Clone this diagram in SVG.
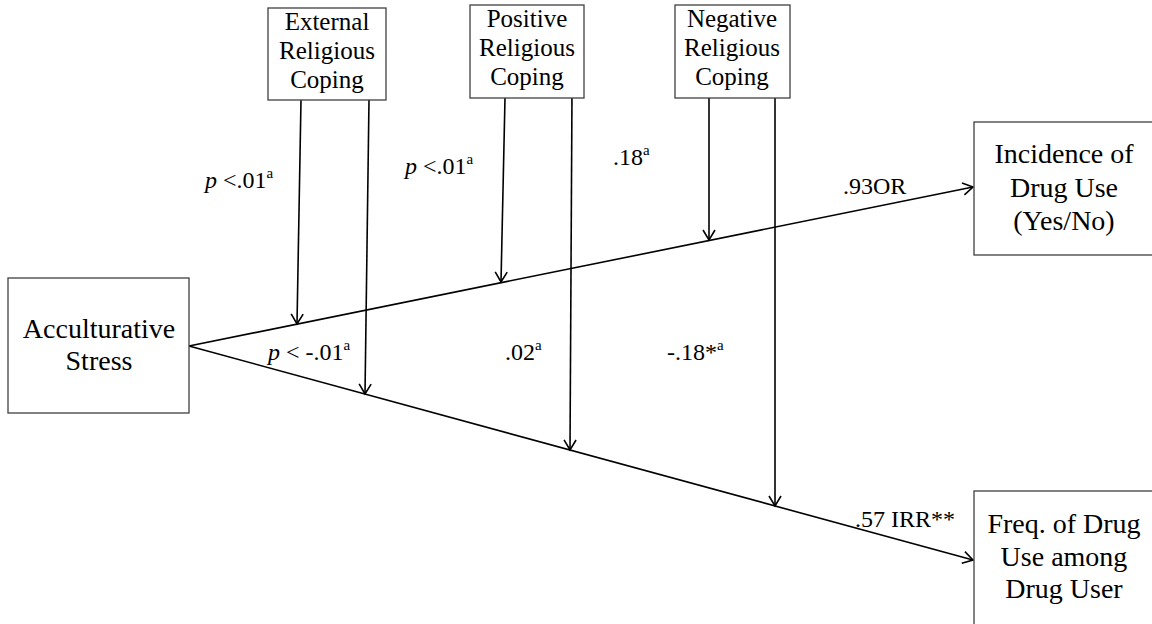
<svg xmlns="http://www.w3.org/2000/svg" width="1152" height="624" viewBox="0 0 1152 624">
<style>
.box{fill:#fff;stroke:#404040;stroke-width:1.3}
.t{font-family:'Liberation Serif','Times New Roman',Tinos,'DejaVu Serif',serif;fill:#000;text-anchor:middle}
.s{font-size:25px}
.b{font-size:28px}
.lbl{font-family:'Liberation Serif','Times New Roman',Tinos,'DejaVu Serif',serif;font-size:24px;fill:#000}
.sup{font-size:15px}
.c{fill:none;stroke:#000;stroke-width:1.6}
</style>
<defs>
<marker id="arr" markerUnits="userSpaceOnUse" markerWidth="14" markerHeight="16" refX="11" refY="7" orient="auto" viewBox="0 0 14 14">
<path d="M1,1 L11,7 L1,13" fill="none" stroke="#000" stroke-width="1.6"/>
</marker>
</defs>
<g id="connectors">
<line class="c" x1="189" y1="346" x2="973" y2="187" marker-end="url(#arr)"/>
<line class="c" x1="189" y1="346" x2="973" y2="560" marker-end="url(#arr)"/>
<line class="c" x1="301" y1="100" x2="297" y2="324" marker-end="url(#arr)"/>
<line class="c" x1="369" y1="100" x2="365" y2="394" marker-end="url(#arr)"/>
<line class="c" x1="505" y1="98" x2="501" y2="282" marker-end="url(#arr)"/>
<line class="c" x1="572" y1="92" x2="570" y2="450" marker-end="url(#arr)"/>
<line class="c" x1="709" y1="98" x2="709" y2="240" marker-end="url(#arr)"/>
<line class="c" x1="775" y1="98" x2="775" y2="506" marker-end="url(#arr)"/>
</g>
<g id="labels">
<text class="lbl" x="205" y="188"><tspan font-style="italic">p</tspan> &lt;.01<tspan class="sup" dy="-10">a</tspan></text>
<text class="lbl" x="405" y="174"><tspan font-style="italic">p</tspan> &lt;.01<tspan class="sup" dy="-10">a</tspan></text>
<text class="lbl" x="613" y="165">.18<tspan class="sup" dy="-10">a</tspan></text>
<text class="lbl" x="843" y="194">.93OR</text>
<text class="lbl" x="268" y="360"><tspan font-style="italic">p</tspan> &lt; -.01<tspan class="sup" dy="-10">a</tspan></text>
<text class="lbl" x="505" y="360">.02<tspan class="sup" dy="-10">a</tspan></text>
<text class="lbl" x="667" y="360">-.18*<tspan class="sup" dy="-10">a</tspan></text>
<text class="lbl" x="855" y="527">.57 IRR**</text>
</g>
<g id="external">
<rect class="box" x="268" y="8" width="118" height="92"/>
<text class="t s" x="327" y="30">External</text>
<text class="t s" x="327" y="59">Religious</text>
<text class="t s" x="327" y="88">Coping</text>
</g>
<g id="positive">
<rect class="box" x="470" y="5" width="114" height="93"/>
<text class="t s" x="527" y="27">Positive</text>
<text class="t s" x="527" y="56">Religious</text>
<text class="t s" x="527" y="85">Coping</text>
</g>
<g id="negative">
<rect class="box" x="675" y="5" width="115" height="93"/>
<text class="t s" x="732" y="27">Negative</text>
<text class="t s" x="732" y="56">Religious</text>
<text class="t s" x="732" y="85">Coping</text>
</g>
<g id="acculturative">
<rect class="box" x="8" y="278" width="181" height="135"/>
<text class="t b" x="99" y="338">Acculturative</text>
<text class="t b" x="99" y="370">Stress</text>
</g>
<g id="incidence">
<rect class="box" x="974" y="122" width="185" height="133"/>
<text class="t b" x="1064" y="163">Incidence of</text>
<text class="t b" x="1064" y="197">Drug Use</text>
<text class="t b" x="1064" y="230">(Yes/No)</text>
</g>
<g id="freq">
<rect class="box" x="974" y="491" width="185" height="145"/>
<text class="t b" x="1064" y="533">Freq. of Drug</text>
<text class="t b" x="1064" y="566">Use among</text>
<text class="t b" x="1064" y="598">Drug User</text>
</g>
</svg>
